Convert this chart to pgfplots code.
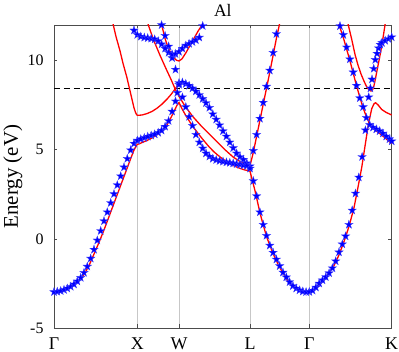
\documentclass[border=0pt]{standalone}
\usepackage{fontspec}
\setmainfont{Liberation Serif}
\usepackage{pgfplots}
\pgfplotsset{compat=1.18}

% filled five-pointed star, like MATLAB's pentagram
\pgfdeclareplotmark{pentagram}{%
  \pgfpathmoveto{\pgfpointpolar{90}{\pgfplotmarksize}}%
  \pgfpathlineto{\pgfpointscale{0.382}{\pgfpointpolar{126}{\pgfplotmarksize}}}%
  \pgfpathlineto{\pgfpointpolar{162}{\pgfplotmarksize}}%
  \pgfpathlineto{\pgfpointscale{0.382}{\pgfpointpolar{198}{\pgfplotmarksize}}}%
  \pgfpathlineto{\pgfpointpolar{234}{\pgfplotmarksize}}%
  \pgfpathlineto{\pgfpointscale{0.382}{\pgfpointpolar{270}{\pgfplotmarksize}}}%
  \pgfpathlineto{\pgfpointpolar{306}{\pgfplotmarksize}}%
  \pgfpathlineto{\pgfpointscale{0.382}{\pgfpointpolar{342}{\pgfplotmarksize}}}%
  \pgfpathlineto{\pgfpointpolar{18}{\pgfplotmarksize}}%
  \pgfpathlineto{\pgfpointscale{0.382}{\pgfpointpolar{54}{\pgfplotmarksize}}}%
  \pgfpathclose
  \pgfusepathqfillstroke
}

\pgfplotsset{
  band/.style={red, line width=1.3bp, line join=round},
  stars/.style={only marks, mark=pentagram, mark size=4.4bp,
    mark options={fill=blue, draw=blue!75!white, line width=0.3bp}},
}

\begin{document}
\begin{tikzpicture}
\begin{axis}[
  scale only axis,
  width=337.7bp, height=303bp,
  xmin=0, xmax=337.7, ymin=-5, ymax=12,
  xtick={0,83.3,125,196,255.3,337.7},
  xticklabels={Γ,X,W,L,Γ,K},
  ytick={-5,0,5,10},
  yticklabels={-5,0,5,10},
  xmajorgrids,
  grid style={black!22, line width=0.6bp},
  tick align=inside,
  major tick length=3.5bp,
  axis line style={black!70, line width=0.6bp},
  tick style={black!70, line width=0.6bp},
  xticklabel style={font=\fontsize{18}{18}\selectfont, anchor=base, yshift=-21.5bp},
  yticklabel style={font=\fontsize{16}{16}\selectfont, xshift=-7bp},
  ylabel={Energy (eV)},
  ylabel style={font=\fontsize{21}{21}\selectfont,
    at={([xshift=-41bp]rel axis cs:0,0.5)}, anchor=center},
  title={Al},
  title style={font=\fontsize{17.6}{17.6}\selectfont,
    at={([yshift=3bp]rel axis cs:0.5,1)}, anchor=base},
]

% Fermi level
\addplot[black, line width=1.1bp, dash pattern=on 6bp off 4bp] coordinates {(0,8.43) (337.7,8.43)};

% red bands
\addplot[band] coordinates {
(0,-3.0) (5,-2.95) (10,-2.87) (15,-2.73) (20,-2.56) (25,-2.32) (30,-2.0) (35,-1.5)
(40,-0.85) (45,-0.2) (50,0.5) (55,1.25) (60,2.0) (65,2.75) (70,3.5) (74,4.1)
(77,4.55) (79.5,4.92) (81.5,5.15) (82.5,5.25) (83.3,5.3) (85,5.33) (90,5.45) (96,5.6)
(102,5.8) (108,6.05) (112,6.3) (116,6.7) (120,7.15) (123,7.5) (125,7.65) (128,7.3) (132,6.9)
(136,6.55) (140,6.22) (145,5.85) (150,5.5) (155,5.17) (160,4.88) (166,4.6) (172,4.35)
(178,4.15) (184,4.0) (190,3.88) (196,3.8) (198.5,3.25) (201,2.7) (203.5,2.08) (206,1.45)
(209.3,0.77) (212.7,0.1) (216,-0.38) (219.3,-0.85) (224,-1.42) (229.3,-1.95) (234,-2.38)
(239.3,-2.68) (243.5,-2.85) (247.7,-2.95) (251.5,-2.99) (255.3,-3.0) (260,-2.88) (265,-2.6)
(270,-2.3) (275,-1.9) (280,-1.5) (285,-0.9) (290,-0.15) (295,0.7) (300,1.75) (304,2.9)
(307.7,4.0) (311,5.2) (314.3,6.4) (317.7,7.3) (320,7.58) (321.5,7.64) (324,7.52)
(327.7,7.26) (332,7.1) (337.7,6.95)
};
\addplot[band] coordinates {
(57,12.6) (59.3,12.0) (62,11.35) (66,10.55) (69,9.85) (72.7,9.1) (75,8.55) (77.7,7.9)
(80,7.35) (81.5,7.1) (82.5,6.98) (83.3,6.93) (88,6.95) (93,7.03) (98,7.15) (103,7.33)
(108,7.56) (113,7.84) (117,8.1) (121,8.4) (125,8.73)
};
\addplot[band] coordinates {
(92,12.5) (94.3,12.0) (100,11.1) (106,10.3) (112,9.55) (117,8.95) (121,8.43) (125,8.0)
(131,7.45) (139,6.85) (147,6.35) (155,5.9) (163,5.45) (171,5.0) (179,4.6) (187,4.3)
(196,4.1) (199.3,4.85) (202.6,5.75) (205.9,6.65) (209.2,7.55) (212.5,8.45) (215.8,9.35)
(219.1,10.3) (222.4,11.25) (225.3,12.0) (227,12.5)
};
\addplot[band] coordinates {
(106,12.5) (107.7,12.0) (111,11.25) (114,10.75) (117,10.4) (120,10.15) (122.5,10.02)
(125,9.98) (128,10.1) (132,10.45) (136,10.85) (140,11.25) (144,11.65) (148,12.0) (151,12.3)
};
\addplot[band] coordinates {
(293,12.35) (294.3,12.0) (297.7,11.2) (301,10.35) (304,9.75) (307,9.25) (310,8.85)
(312.5,8.55) (315,8.36) (317,8.29) (318.5,8.35) (320,8.6) (321.5,9.0) (323,9.45)
(325,10.0) (327,10.6) (329.3,11.38) (331,12.0) (332,12.35)
};
\addplot[band] coordinates {
(283,12.4) (286,11.85) (289.3,11.3) (292.6,10.65) (295.9,10.0) (299.2,9.3) (302.5,8.6)
(305.8,7.95) (309.1,7.35) (312.4,6.85) (315.7,6.45) (319,6.2) (322.3,6.05) (326,5.9)
(330,5.72) (334,5.52) (337.7,5.35)
};

% blue stars
\addplot[stars] coordinates {
(0,-2.98) (3.3,-2.96) (6.7,-2.92) (10,-2.86) (13.3,-2.78) (16.7,-2.68) (20,-2.55)
(23.3,-2.38) (26.7,-2.18) (30,-1.9) (33.3,-1.55) (36.7,-1.1) (40,-0.6) (43.3,-0.08)
(46.7,0.45) (50,1.0) (53.3,1.5) (56.7,2.02) (60,2.52) (63.3,3.02) (66.7,3.52) (70,4.02)
(73.3,4.5) (76.7,4.98) (80,5.35) (83.3,5.52)
(86.8,5.6) (90.3,5.67) (93.7,5.74) (97.2,5.8) (100.7,5.87) (104.2,5.96) (107.6,6.08)
(111.1,6.3) (114.6,6.62) (118.1,7.15) (121.5,7.72) (123.3,8.2) (125,8.75)
(128.4,8.78) (131.8,8.7) (135.1,8.6) (138.5,8.45) (141.9,8.28) (145.3,8.08) (148.7,7.86)
(152,7.62) (155.4,7.36) (158.8,7.0) (162.2,6.7) (165.6,6.38) (169,6.05) (172.4,5.75)
(175.8,5.42) (179.2,5.1) (182.6,4.8) (186,4.6) (189.4,4.45) (192.8,4.25) (196,4.08)
};
\addplot[stars] coordinates {
(107.6,12.0) (111.1,11.4) (114.6,10.8) (118.1,10.15) (121.5,9.5) (125,8.65)
(128.4,7.95) (131.8,7.4) (135.1,6.85) (138.5,6.35) (141.9,5.85) (145.3,5.42) (148.7,5.08)
(152,4.8) (155.4,4.62) (158.8,4.5) (162.2,4.43) (165.6,4.38) (169,4.34) (172.4,4.3)
(175.8,4.27) (179.2,4.24) (182.6,4.2) (186,4.17) (189.4,4.13) (192.8,4.1) (196,3.95)
(199.3,3.25) (202.6,2.4) (205.9,1.5) (209.2,0.8) (212.5,0.18) (215.8,-0.37) (219.1,-0.77)
(222.4,-1.15) (225.7,-1.52) (229,-1.88) (232.3,-2.15) (235.6,-2.42) (238.9,-2.64)
(242.2,-2.78) (245.5,-2.88) (248.8,-2.95) (252.1,-2.98) (255.3,-2.97)
(258.6,-2.9) (261.9,-2.72) (265.2,-2.5) (268.5,-2.32) (271.8,-2.14) (275.1,-1.92)
(278.4,-1.64) (281.7,-1.25) (285,-0.75) (288.3,-0.3) (291.6,0.15) (294.9,0.8) (298.2,1.6)
(301.5,2.55) (304.8,3.45) (308.1,4.6) (311.4,6.1) (314.7,7.95) (316.4,8.45) (318,8.95)
(319.7,9.55) (321.3,10.05) (323,10.4) (324.6,10.7) (326.2,10.9) (327.9,11.0) (331.2,11.12)
(334.5,11.22) (337.7,11.32)
};
\addplot[stars] coordinates {
(199.3,4.95) (202.6,5.85) (205.9,6.75) (209.2,7.65) (212.5,8.55) (215.8,9.45)
(219.1,10.45) (222.4,11.5)
};
\addplot[stars] coordinates {
(76.7,12.05) (80,11.7) (83.3,11.45) (86.8,11.35) (90.3,11.3) (93.7,11.27) (97.2,11.24)
(100.7,11.2) (104.2,11.1) (107.6,10.92) (111.1,10.68) (114.6,10.45) (118.1,10.35)
(121.5,10.38) (125,10.5) (128.4,10.68) (131.8,10.85) (135.1,10.95) (138.5,11.05)
(141.9,11.15) (145.3,11.3) (148.7,11.95)
};
\addplot[stars] coordinates {
(286,11.94) (289.3,11.45) (292.6,10.75) (295.9,10.08) (299.2,9.35) (302.5,8.6)
(305.8,7.9) (309.1,7.4) (312.4,6.8) (315.7,6.4) (319,6.25) (322.3,6.15) (325.6,6.05)
(328.9,5.92) (332.2,5.75) (335.5,5.6) (337.7,5.48)
};
\end{axis}
\pgfresetboundingbox
\path[use as bounding box] ([shift={(-54bp,-24bp)}]current axis.south west)
  rectangle ([shift={(7.3bp,25bp)}]current axis.north east);
\end{tikzpicture}
\end{document}
